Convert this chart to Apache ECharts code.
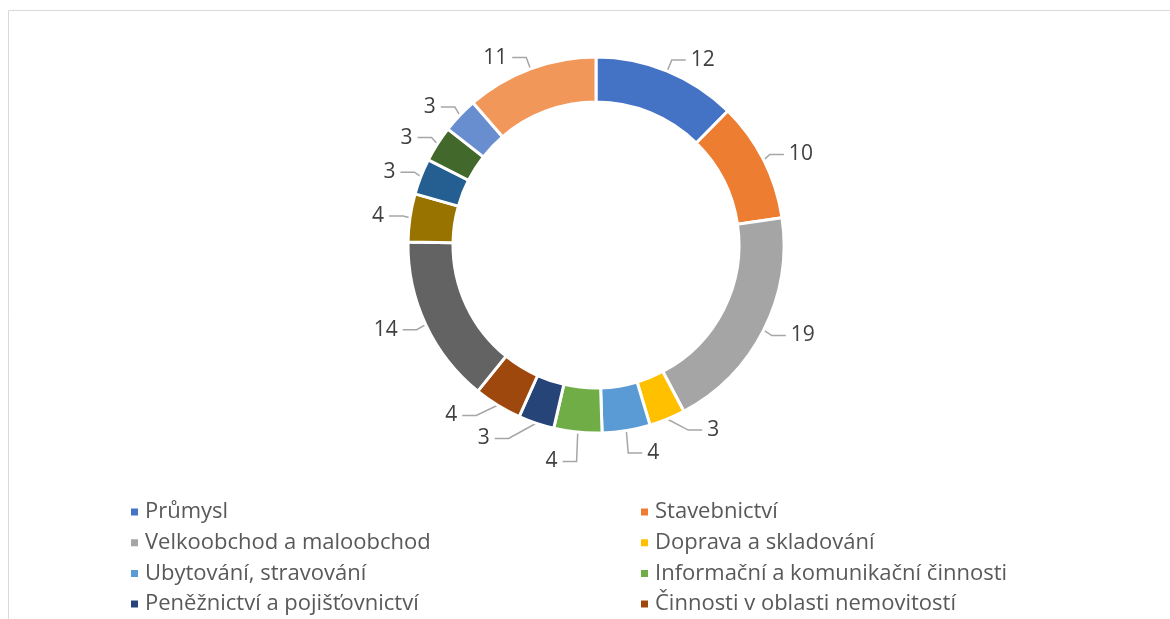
<!DOCTYPE html>
<html>
<head>
<meta charset="utf-8">
<script src="https://cdn.jsdelivr.net/npm/echarts@6/dist/echarts.min.js"></script>
<style>
  html, body { margin: 0; padding: 0; background: #fff; }
  #chart { width: 1170px; height: 619px; }
</style>
</head>
<body>
<div id="chart"></div>
<script>
// odvětví (prvních 8 je v legendě, zbytek je useknutý)
const sectors = [
  'Průmysl',
  'Stavebnictví',
  'Velkoobchod a maloobchod',
  'Doprava a skladování',
  'Ubytování, stravování',
  'Informační a komunikační činnosti',
  'Peněžnictví a pojišťovnictví',
  'Činnosti v oblasti nemovitostí',
  'Profesní, vědecké a technické činnosti',
  'Administrativní a podpůrné činnosti',
  'Veřejná správa a obrana',
  'Vzdělávání',
  'Zdravotní a sociální péče',
  'Ostatní činnosti',
]
const counts = [12, 10, 19, 3, 4, 4, 3, 4, 14, 4, 3, 3, 3, 11]
const colors = [
  '#4472C4', '#ED7D31', '#A5A5A5', '#FFC000', '#5B9BD5', '#70AD47', '#264478',
  '#9E480E', '#636363', '#997300', '#255E91', '#43682B', '#698ED0', '#F1975A',
]
const legendLeft = sectors.filter((s, i) => i < 8 && i % 2 === 0)
const legendRight = sectors.filter((s, i) => i < 8 && i % 2 === 1)

let myChart = echarts.init(document.getElementById('chart'))

const legendCommon = {
  orient: 'vertical',
  top: 496,
  height: 200,
  itemWidth: 9,
  itemHeight: 9,
  itemGap: 8.7,
  icon: 'rect',
  textStyle: {
    fontFamily: 'Open Sans',
    fontSize: 22,
    lineHeight: 22,
    color: '#595959',
    padding: [0, 0, 0, 1],
  },
}

let option = {
  color: colors,
  animation: false,
  graphic: [
    {
      type: 'rect',
      shape: { x: 8.5, y: 10.5, width: 1300, height: 800 },
      style: { fill: 'none', stroke: '#d9d9d9', lineWidth: 1 },
      silent: true,
    },
  ],
  legend: [
    Object.assign({ left: 124, data: legendLeft }, legendCommon),
    Object.assign({ left: 634, data: legendRight }, legendCommon),
  ],
  series: [
    {
      type: 'pie',
      center: [596, 245],
      radius: [143, 188],
      startAngle: 90,
      clockwise: true,
      itemStyle: {
        borderColor: '#fff',
        borderWidth: 3,
      },
      label: {
        show: true,
        position: 'outside',
        formatter: '{c}',
        fontFamily: 'Open Sans',
        fontSize: 21,
        color: '#404040',
      },
      labelLine: {
        show: true,
        length: 12,
        length2: 14,
        lineStyle: { color: '#a6a6a6', width: 1.5 },
      },
      data: sectors.map((name, i) => ({ name: name, value: counts[i] })),
    },
  ],
}

myChart.setOption(option)
</script>
</body>
</html>
